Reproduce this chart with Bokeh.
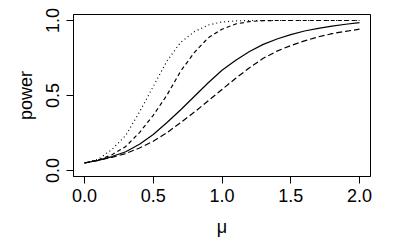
from bokeh.plotting import figure
from bokeh.models import FixedTicker, Range1d
from bokeh.embed import file_html
from bokeh.resources import INLINE

mu = [0.0, 0.1, 0.2, 0.3, 0.4, 0.5, 0.6, 0.7, 0.8, 0.9, 1.0,
      1.1, 1.2, 1.3, 1.4, 1.5, 1.6, 1.7, 1.8, 1.9, 2.0]

power_solid = [0.05, 0.068, 0.093, 0.125, 0.175, 0.24, 0.32, 0.405, 0.495, 0.585, 0.668,
               0.735, 0.793, 0.841, 0.877, 0.906, 0.93, 0.948, 0.963, 0.975, 0.986]
power_long_dash = [0.05, 0.068, 0.088, 0.113, 0.15, 0.195, 0.252, 0.32, 0.39, 0.465, 0.54,
                   0.615, 0.685, 0.748, 0.796, 0.833, 0.864, 0.891, 0.912, 0.928, 0.942]
power_short_dash = [0.05, 0.07, 0.105, 0.16, 0.253, 0.368, 0.503, 0.663, 0.788, 0.885, 0.942,
                    0.977, 0.993, 0.999, 1.0, 1.0, 1.0, 1.0, 1.0, 1.0, 1.0]
power_dotted = [0.05, 0.075, 0.14, 0.234, 0.39, 0.56, 0.73, 0.855, 0.926, 0.97, 0.99,
                0.997, 1.0, 1.0, 1.0, 1.0, 1.0, 1.0, 1.0, 1.0, 1.0]

x_ticks = [0, 0.5, 1, 1.5, 2]
x_tick_labels = ["0.0", "0.5", "1.0", "1.5", "2.0"]
y_ticks = [0, 0.5, 1]
y_tick_labels = ["0.0", "0.5", "1.0"]

FONT = "Liberation Sans"

p = figure(width=392, height=242, output_backend="svg", toolbar_location=None,
           x_range=Range1d(-0.08, 2.08), y_range=Range1d(-0.04, 1.04),
           min_border_left=73, min_border_right=22, min_border_top=14, min_border_bottom=66)

p.line(mu, power_solid, line_color="black", line_width=1.2)
p.line(mu, power_long_dash, line_color="black", line_width=1.2, line_dash="6 3")
p.line(mu, power_short_dash, line_color="black", line_width=1.2, line_dash="4 3")
p.line(mu, power_dotted, line_color="black", line_width=1.2, line_dash="1 3")

p.grid.visible = False
p.outline_line_color = "black"
p.outline_line_width = 1
p.outline_line_alpha = 1

p.xaxis.ticker = FixedTicker(ticks=x_ticks)
p.yaxis.ticker = FixedTicker(ticks=y_ticks)
p.xaxis.major_label_overrides = {t: l for t, l in zip(x_ticks, x_tick_labels)}
p.yaxis.major_label_overrides = {t: l for t, l in zip(y_ticks, y_tick_labels)}
p.xaxis.axis_label = "μ"
p.yaxis.axis_label = "power"
p.yaxis.major_label_orientation = "vertical"

for ax in (p.xaxis, p.yaxis):
    ax.axis_line_color = "black"
    ax.major_tick_line_color = "black"
    ax.major_tick_out = 7
    ax.major_tick_in = 0
    ax.minor_tick_line_color = None
    ax.major_label_text_font = FONT
    ax.major_label_text_font_size = "18px"
    ax.major_label_text_color = "black"
    ax.axis_label_text_font = FONT
    ax.axis_label_text_font_size = "18px"
    ax.axis_label_text_font_style = "normal"
    ax.axis_label_text_color = "black"

p.xaxis.major_label_standoff = 5
p.xaxis.axis_label_standoff = 12
p.yaxis.major_label_standoff = 8
p.yaxis.axis_label_standoff = 7

open("out.html", "w").write(file_html(p, INLINE))
